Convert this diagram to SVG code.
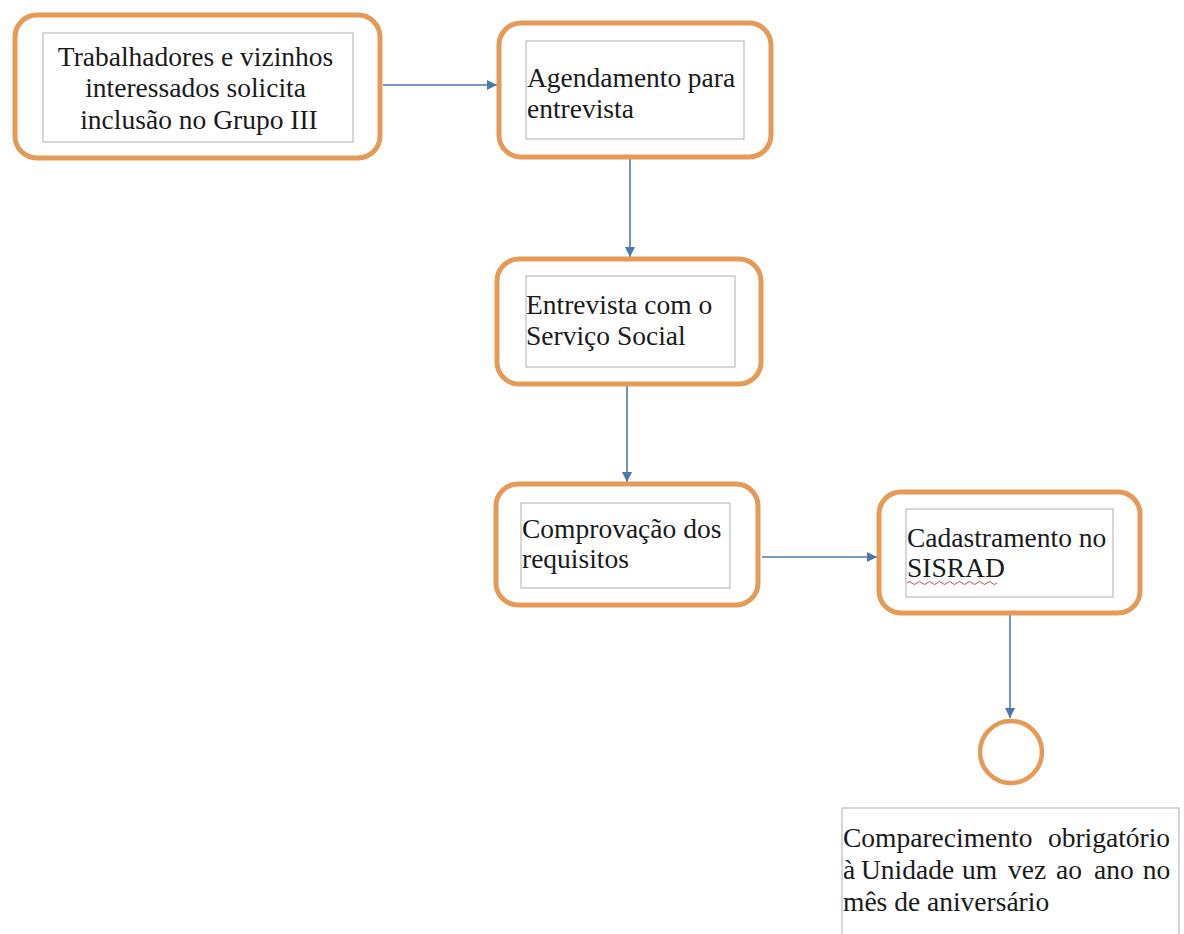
<svg xmlns="http://www.w3.org/2000/svg" width="1184" height="934" viewBox="0 0 1184 934">
  <style>
    .step { fill: #ffffff; stroke: #E59B57; stroke-width: 5; }
    .frame { fill: #ffffff; stroke: #A9B0B8; stroke-width: 1; }
    .label { fill: #1a1a1a; }
    .flow { stroke: #4A78AE; stroke-width: 1.6; fill: none; marker-end: url(#arrow); }
    .squiggle { stroke: #D04040; stroke-width: 1; fill: none; }
  </style>
  <defs>
    <marker id="arrow" viewBox="0 0 10 10" refX="10" refY="5" markerWidth="10" markerHeight="10" markerUnits="userSpaceOnUse" orient="auto">
      <path d="M0,0 L10,5 L0,10 z" fill="#4A78AE"/>
    </marker>
  </defs>
  <rect width="1184" height="934" fill="#ffffff"/>

  <g id="connectors">
    <line class="flow" x1="383" y1="85" x2="497" y2="85"/>
    <line class="flow" x1="630" y1="157" x2="630" y2="257"/>
    <line class="flow" x1="627" y1="385" x2="627" y2="482"/>
    <line class="flow" x1="762" y1="557" x2="877" y2="557"/>
    <line class="flow" x1="1010" y1="613" x2="1010" y2="718"/>
  </g>

  <!-- shared typeface for every label -->
  <g font-family="Liberation Serif" font-size="27.5">

    <g id="node-solicitacao">
      <rect class="step" x="15" y="15" width="365" height="143" rx="22"/>
      <rect class="frame" x="43" y="33" width="310" height="109"/>
      <text class="label" text-anchor="middle">
        <tspan x="199" y="66">Trabalhadores e vizinhos</tspan>
        <tspan x="199" y="97">interessados solicita</tspan>
        <tspan x="199" y="129">inclusão no Grupo III</tspan>
      </text>
    </g>

    <g id="node-agendamento">
      <rect class="step" x="499" y="23" width="272" height="134" rx="22"/>
      <rect class="frame" x="526" y="41" width="218" height="98"/>
      <text class="label">
        <tspan x="527" y="87">Agendamento</tspan>
        <tspan x="742" y="87" text-anchor="end">para</tspan>
        <tspan x="527" y="118">entrevista</tspan>
      </text>
    </g>

    <g id="node-entrevista">
      <rect class="step" x="497" y="259" width="264" height="125" rx="22"/>
      <rect class="frame" x="526" y="276" width="209" height="91"/>
      <text class="label">
        <tspan x="526" y="314">Entrevista com o</tspan>
        <tspan x="526" y="345">Serviço Social</tspan>
      </text>
    </g>

    <g id="node-comprovacao">
      <rect class="step" x="496" y="484" width="262" height="121" rx="22"/>
      <rect class="frame" x="521" y="503" width="209" height="85"/>
      <text class="label">
        <tspan x="522" y="538">Comprovação dos</tspan>
        <tspan x="522" y="568">requisitos</tspan>
      </text>
    </g>

    <g id="node-cadastramento">
      <rect class="step" x="879" y="492" width="261" height="121" rx="22"/>
      <rect class="frame" x="906" y="509" width="207" height="88"/>
      <text class="label">
        <tspan x="907" y="547">Cadastramento no</tspan>
        <tspan x="907" y="577">SISRAD</tspan>
      </text>
      <path class="squiggle" d="M907,583 q2.5,-3 5,0 t5,0 t5,0 t5,0 t5,0 t5,0 t5,0 t5,0 t5,0 t5,0 t5,0 t5,0 t5,0 t5,0 t5,0 t5,0 t5,0 t5,0"/>
    </g>

    <g id="node-fim">
      <circle cx="1011" cy="752" r="31" fill="#ffffff" stroke="#E59B57" stroke-width="4.5"/>
    </g>

    <g id="note-comparecimento">
      <rect class="frame" x="842" y="808" width="337" height="140"/>
      <text class="label">
        <tspan x="843" y="847">Comparecimento</tspan>
        <tspan x="1177" y="847" text-anchor="end">obrigatório</tspan>
        <tspan x="843" y="879">à</tspan>
        <tspan x="861" y="879">Unidade</tspan>
        <tspan x="962" y="879">um</tspan>
        <tspan x="1008" y="879">vez</tspan>
        <tspan x="1056" y="879">ao</tspan>
        <tspan x="1094" y="879">ano</tspan>
        <tspan x="1177" y="879" text-anchor="end">no</tspan>
        <tspan x="843" y="911">mês de aniversário</tspan>
      </text>
    </g>
  </g>
</svg>
